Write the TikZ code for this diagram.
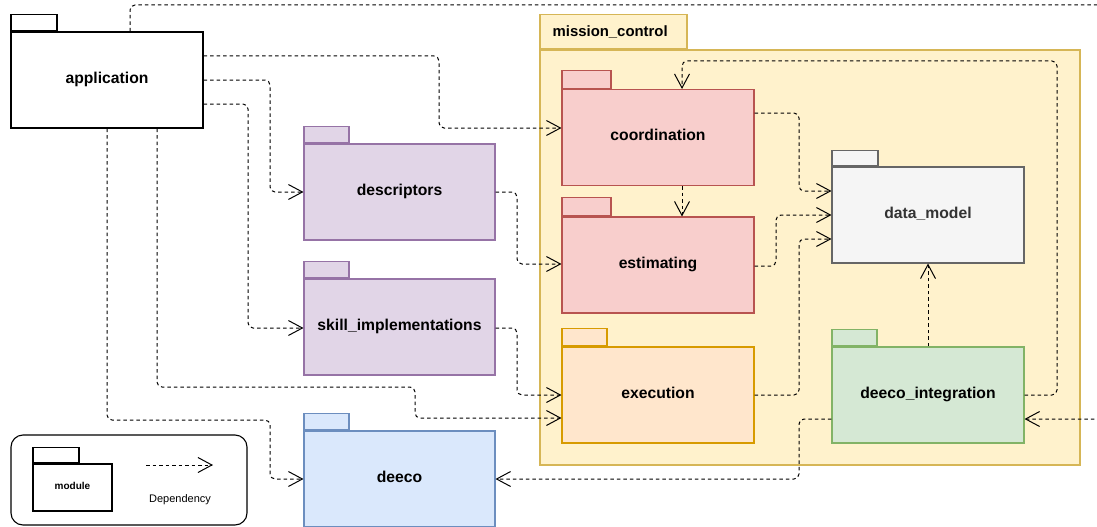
\documentclass[tikz,border=0pt]{standalone}
\usepackage{fontspec}
\setmainfont{Liberation Sans}
\usetikzlibrary{arrows.meta,calc}

\definecolor{mcFill}{HTML}{FFF2CC}\definecolor{mcLine}{HTML}{D6B656}
\definecolor{redFill}{HTML}{F8CECC}\definecolor{redLine}{HTML}{B85450}
\definecolor{orFill}{HTML}{FFE6CC}\definecolor{orLine}{HTML}{D79B00}
\definecolor{grFill}{HTML}{F5F5F5}\definecolor{grLine}{HTML}{666666}
\definecolor{grText}{HTML}{333333}
\definecolor{gnFill}{HTML}{D5E8D4}\definecolor{gnLine}{HTML}{82B366}
\definecolor{puFill}{HTML}{E1D5E7}\definecolor{puLine}{HTML}{9673A6}
\definecolor{blFill}{HTML}{DAE8FC}\definecolor{blLine}{HTML}{6C8EBF}

\begin{document}
\begin{tikzpicture}[x=1pt,y=-1pt,
  pkgbody/.style={draw, line width=1.1pt, inner sep=0pt,
    minimum width=192pt, minimum height=96pt, text height=11pt, text depth=5pt,
    font=\fontsize{15.7}{18}\selectfont\bfseries},
  pkgtab/.style={draw, line width=1.1pt, inner sep=0pt, anchor=south west,
    minimum width=46pt, minimum height=16pt},
  dep/.style={line width=1pt, dash pattern=on 3.5pt off 3pt, rounded corners=5pt,
    -{Straight Barb[length=14pt,width=15pt,line width=1pt]}},
]
\useasboundingbox (0,0) rectangle (1097,527);

% ---------- mission_control container ----------
\node[draw=mcLine, fill=mcFill, line width=1.1pt, inner sep=0pt,
      minimum width=540pt, minimum height=415pt] (mc) at (810,257.5) {};
\node[pkgtab, draw=mcLine, fill=mcFill, minimum width=147pt, minimum height=34pt]
      (mc-tab) at (mc.north west) {};
\node[anchor=west, inner sep=0pt, font=\fontsize{14.9}{17}\selectfont\bfseries]
      (mc-label) at ($(mc-tab.west)+(13,0)$) {mission\_control};

% ---------- packages ----------
\node[pkgbody, fill=white, draw=black] (app) at (107,80) {application};
\node[pkgtab, fill=white, draw=black] (app-tab) at (app.north west) {};

\node[pkgbody, fill=redFill, draw=redLine] (coord) at (658,137.5) {coordination};
\node[pkgtab, fill=redFill, draw=redLine, minimum width=49pt, minimum height=18pt] (coord-tab) at (coord.north west) {};

\node[pkgbody, fill=redFill, draw=redLine] (estim) at (658,265) {estimating};
\node[pkgtab, fill=redFill, draw=redLine, minimum width=49pt, minimum height=18pt] (estim-tab) at (estim.north west) {};

\node[pkgbody, fill=orFill, draw=orLine] (exec) at (658,395) {execution};
\node[pkgtab, fill=orFill, draw=orLine, minimum width=45pt, minimum height=17pt] (exec-tab) at (exec.north west) {};

\node[pkgbody, fill=grFill, draw=grLine, text=grText] (dm) at (928,215) {data\_model};
\node[pkgtab, fill=grFill, draw=grLine, minimum height=15pt] (dm-tab) at (dm.north west) {};

\node[pkgbody, fill=gnFill, draw=gnLine] (deint) at (928,395) {deeco\_integration};
\node[pkgtab, fill=gnFill, draw=gnLine, minimum width=45pt] (deint-tab) at (deint.north west) {};

\node[pkgbody, fill=puFill, draw=puLine, minimum width=191pt] (desc) at (399.5,192) {descriptors};
\node[pkgtab, fill=puFill, draw=puLine, minimum width=45pt] (desc-tab) at (desc.north west) {};

\node[pkgbody, fill=puFill, draw=puLine, minimum width=191pt] (skill) at (399.5,327) {skill\_implementations};
\node[pkgtab, fill=puFill, draw=puLine, minimum width=45pt] (skill-tab) at (skill.north west) {};

\node[pkgbody, fill=blFill, draw=blLine, minimum width=191pt] (deeco) at (399.5,479) {deeco};
\node[pkgtab, fill=blFill, draw=blLine, minimum width=45pt] (deeco-tab) at (deeco.north west) {};

% ---------- legend ----------
\node[draw, line width=1.1pt, rounded corners=12pt, inner sep=0pt,
      minimum width=236pt, minimum height=90pt] (legend) at (129,480) {};
\node[pkgbody, fill=white, draw=black, minimum width=79pt, minimum height=47pt,
      text height=7pt, text depth=3pt,
      font=\fontsize{10}{12}\selectfont\bfseries] (mod) at (72.5,487.5) {module};
\node[pkgtab, fill=white, draw=black, minimum height=15pt] (mod-tab) at (mod.north west) {};
\coordinate (lg-a) at (146,465);
\coordinate (lg-b) at (213,465);
\draw[dep] (lg-a) -- (lg-b);
\node[font=\fontsize{11}{13}\selectfont] (lg-text) at (180,500) {Dependency};

% ---------- dependencies ----------
\draw[dep] (app.east |- 0,56) -- (439,56) -- (439,128) -- (coord.west |- 0,128);
\draw[dep] (app.east |- 0,80) -- (270,80) -- (270,192) -- (desc.west |- 0,192);
\draw[dep] (app.east |- 0,104) -- (248,104) -- (248,328) -- (skill.west |- 0,328);
\draw[dep] (app.south -| 107,0) -- (107,420) -- (270,420) -- (270,479) -- (deeco.west |- 0,479);
\draw[dep] (app.south -| 157,0) -- (157,387) -- (415,387) -- (415,418) -- (exec.west |- 0,418);

\draw[dep] (desc.east |- 0,192) -- (517,192) -- (517,264) -- (estim.west |- 0,264);
\draw[dep] (skill.east |- 0,328) -- (517,328) -- (517,395) -- (exec.west |- 0,395);

\draw[dep] (coord.south -| 682,0) -- (estim.north -| 682,0);
\draw[dep] (coord.east |- 0,113) -- (799,113) -- (799,191) -- (dm.west |- 0,191);
\draw[dep] (estim.east |- 0,266) -- (776,266) -- (776,215) -- (dm.west |- 0,215);
\draw[dep] (exec.east |- 0,395) -- (799,395) -- (799,239) -- (dm.west |- 0,239);

\draw[dep] (deint.north) -- (dm.south);
\draw[dep] (deint.east |- 0,395) -- (1057,395) -- (1057,61) -- (682,61) -- (coord.north -| 682,0);
\draw[dep] (deint.west |- 0,419) -- (799,419) -- (799,479) -- (deeco.east |- 0,479);

% application -> deeco_integration, routed round the right-hand side
\begin{scope}
  \clip (0,0) rectangle (1097,527);
  \draw[dep] (app.north -| 130,0) -- (130,5) -- (1130,5) -- (1130,419) -- (deint.east |- 0,419);
\end{scope}
\end{tikzpicture}
\end{document}
